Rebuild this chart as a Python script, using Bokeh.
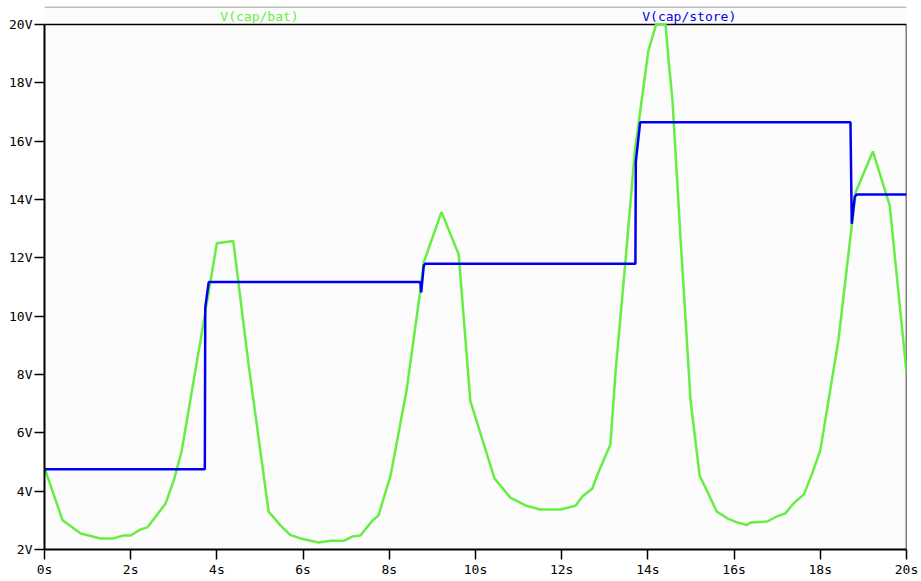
from bokeh.plotting import figure
from bokeh.models import Range1d, FixedTicker
from bokeh.embed import file_html
from bokeh.resources import INLINE

# V(cap/bat) transient, seconds / volts
bat_t = [0.0, 0.42, 0.84, 1.3, 1.6, 1.83, 2.0, 2.23, 2.39, 2.6, 2.81, 3.0, 3.18,
         3.62, 4.0, 4.38, 4.73, 5.2, 5.48, 5.7, 5.94, 6.36, 6.64, 6.94, 7.15,
         7.33, 7.59, 7.75, 8.03, 8.4, 8.72, 8.8, 9.21, 9.61, 9.88, 10.44, 10.81,
         11.16, 11.5, 11.97, 12.32, 12.48, 12.71, 12.85, 13.13, 13.25, 13.48,
         13.7, 14.01, 14.19, 14.41, 14.48, 14.57, 14.76, 14.99, 15.2, 15.6,
         15.84, 16.07, 16.3, 16.38, 16.77, 17.0, 17.19, 17.38, 17.62, 17.81,
         18.0, 18.42, 18.82, 19.22, 19.61, 20.0]
bat_v = [4.8, 3.0, 2.55, 2.38, 2.38, 2.48, 2.48, 2.69, 2.76, 3.17, 3.58, 4.37, 5.36,
         9.17, 12.5, 12.58, 8.4, 3.3, 2.82, 2.5, 2.38, 2.24, 2.3, 2.3, 2.45,
         2.48, 2.96, 3.17, 4.54, 7.45, 10.88, 11.85, 13.57, 12.12, 7.1, 4.44, 3.78,
         3.51, 3.37, 3.37, 3.5, 3.82, 4.09, 4.64, 5.6, 8.1, 11.9,
         15.7, 19.1, 20.0, 20.0, 18.77, 17.4, 12.6, 7.1, 4.54, 3.3,
         3.07, 2.93, 2.84, 2.93, 2.96, 3.14, 3.24, 3.58, 3.89, 4.6,
         5.4, 9.17, 14.25, 15.65, 13.8, 8.07]

# V(cap/store) transient
store_t = [0.0, 3.72, 3.73, 3.81, 8.72, 8.74, 8.8, 8.84, 13.71, 13.72, 13.82,
           18.7, 18.73, 18.8, 18.84, 20.0]
store_v = [4.75, 4.75, 10.3, 11.17, 11.17, 10.82, 11.74, 11.8, 11.8, 15.3, 16.65,
           16.65, 13.17, 14.1, 14.17, 14.17]

x_ticks = [0, 2, 4, 6, 8, 10, 12, 14, 16, 18, 20]
y_ticks = [2, 4, 6, 8, 10, 12, 14, 16, 18, 20]

T_MIN, T_MAX = 0, 20
V_MIN, V_MAX = 2, 20
V_HEAD = 20.62   # head room above the plot box for the trace names

GREEN = "#66ee44"
BLUE = "#0000ee"
MONO = "DejaVu Sans Mono"

p = figure(width=921, height=581, output_backend="svg", toolbar_location=None,
           x_range=Range1d(T_MIN, T_MAX), y_range=Range1d(V_MIN, V_HEAD),
           min_border_left=44, min_border_right=15, min_border_top=6,
           min_border_bottom=32)

p.background_fill_color = "#fcfcfc"
p.border_fill_color = "#ffffff"
p.outline_line_color = None
p.grid.visible = False

p.xaxis.ticker = FixedTicker(ticks=x_ticks)
p.yaxis.ticker = FixedTicker(ticks=y_ticks)
p.yaxis.bounds = (V_MIN, V_MAX)
p.xaxis.major_label_overrides = {t: f"{t}s" for t in x_ticks}
p.yaxis.major_label_overrides = {t: f"{t}V" for t in y_ticks}
for ax in (p.xaxis, p.yaxis):
    ax.axis_line_width = 2
    ax.axis_line_color = "black"
    ax.major_tick_out = 10
    ax.major_tick_in = 0
    ax.major_tick_line_width = 1.5
    ax.minor_tick_line_color = None
    ax.major_label_text_font = MONO
    ax.major_label_text_font_size = "13px"
    ax.major_label_text_color = "black"
    ax.major_label_standoff = 2

# gray rule across the top of the window
p.segment(x0=[T_MIN], y0=[V_HEAD - 0.02], x1=[T_MAX], y1=[V_HEAD - 0.02],
          line_color="#aaaaaa", line_width=1.5)

# top and right edges of the plot box
p.segment(x0=[T_MIN, T_MAX], y0=[V_MAX, V_MIN], x1=[T_MAX, T_MAX], y1=[V_MAX, V_MAX],
          line_color="black", line_width=1.5)

p.line(bat_t, bat_v, line_color=GREEN, line_width=2.5)
p.line(store_t, store_v, line_color=BLUE, line_width=2.5)

# trace names above the plot box
p.text(x=[4.08], y=[20.27], text=["V(cap/bat)"], text_color=GREEN,
       text_font={"value": MONO}, text_font_size="13px", text_baseline="middle")
p.text(x=[13.87], y=[20.27], text=["V(cap/store)"], text_color=BLUE,
       text_font={"value": MONO}, text_font_size="13px", text_baseline="middle")

open("out.html", "w").write(file_html(p, INLINE))
